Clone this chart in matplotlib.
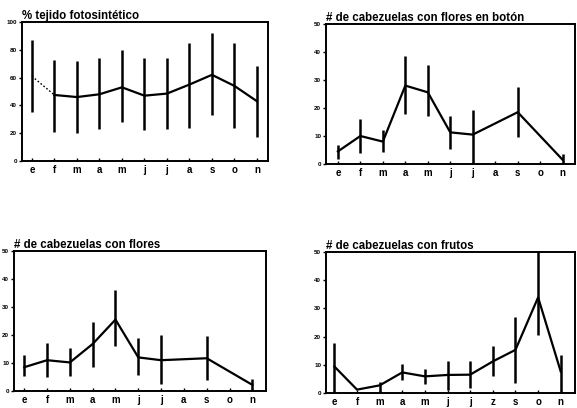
import numpy as np
import matplotlib
matplotlib.use("Agg")
import matplotlib.pyplot as plt

plt.rcParams['font.family'] = ['Liberation Sans', 'DejaVu Sans']

months = ['e', 'f', 'm', 'a', 'm', 'j', 'j', 'a', 's', 'o', 'n']
months4 = ['e', 'f', 'm', 'a', 'm', 'j', 'j', 'z', 's', 'o', 'n']
nan = np.nan

# Panel 1: % tejido fotosintético
foto_mean = [61, 47.5, 46, 48, 53, 47, 48.5, 55, 62, 54, 43]
foto_low = [35, 21, 20, 23, 28, 22, 23, 24, 33, 24, 17]
foto_high = [87, 73, 72, 74, 80, 74, 74, 85, 92, 85, 68]

# Panel 2: # de cabezuelas con flores en botón
boton_mean = [4.5, 10, 8, 28, 25.6, 11.3, 10.5, nan, 18.5, nan, 1.5]
boton_low = [1.8, 4, 4.3, 18, 17, 5.5, 0, nan, 9.6, nan, 0]
boton_high = [6.7, 16, 12, 38.5, 35.5, 17.3, 19.4, nan, 27.5, nan, 3.7]

# Panel 3: # de cabezuelas con flores
flores_mean = [8.5, 11, 10.2, 16.8, 25.5, 12, 11, nan, 11.7, nan, 2.2]
flores_low = [5.2, 5, 5.4, 8.6, 16, 5.6, 2.4, nan, 4, nan, 0]
flores_high = [12.7, 17, 15.5, 24.6, 36, 19, 19.9, nan, 19.5, nan, 4.2]

# Panel 4: # de cabezuelas con frutos
frutos_mean = [9.4, 1.2, 2.7, 7.3, 5.9, 6.4, 6.5, 11.2, 15.3, 33.9, 7.6]
frutos_low = [0, 1.2, 0, 4.7, 3.3, 1.2, 1.8, 5.9, 3.5, 20.6, 0]
frutos_high = [17.6, 1.2, 3.8, 10.2, 8.6, 11.2, 11.2, 16.5, 26.8, 52, 13.5]

W, H = 577, 408
fig = plt.figure(figsize=(W / 100, H / 100), dpi=100)

def rect(l, r, t, b):
    return [l / W, 1 - b / H, (r - l) / W, (b - t) / H]

panels = [
    dict(rect=rect(22, 268, 22, 161), title='% tejido fotosintético',
         mean=foto_mean, low=foto_low, high=foto_high, ymax=100, step=20,
         xlim=(-0.44, 10.49), labels=months, dotted_first=True),
    dict(rect=rect(326, 575, 24, 164), title='# de cabezuelas con flores en botón',
         mean=boton_mean, low=boton_low, high=boton_high, ymax=50, step=10,
         xlim=(-0.53, 10.55), labels=months, dotted_first=False),
    dict(rect=rect(14, 266, 251, 391), title='# de cabezuelas con flores',
         mean=flores_mean, low=flores_low, high=flores_high, ymax=50, step=10,
         xlim=(-0.45, 10.6), labels=months, dotted_first=False),
    dict(rect=rect(326, 575, 252, 393), title='# de cabezuelas con frutos',
         mean=frutos_mean, low=frutos_low, high=frutos_high, ymax=50, step=10,
         xlim=(-0.37, 10.63), labels=months4, dotted_first=False),
]

for p in panels:
    ax = fig.add_axes(p['rect'])
    x = np.arange(len(p['labels']))
    mean = np.array(p['mean'], dtype=float)
    low = np.array(p['low'], dtype=float)
    high = np.array(p['high'], dtype=float)
    ok = ~np.isnan(mean)
    xs, ys = x[ok], mean[ok]
    if p['dotted_first']:
        ax.plot(xs[:2], ys[:2], color='black', lw=1.0, ls=(0, (1.2, 1.5)))
        ax.plot(xs[1:], ys[1:], color='black', lw=1.6)
    else:
        ax.plot(xs, ys, color='black', lw=1.6)
    okb = ~np.isnan(low)
    ax.vlines(x[okb], low[okb], high[okb], color='black', lw=1.8)
    ax.set_xlim(*p['xlim'])
    ax.set_ylim(0, p['ymax'])
    ax.set_xticks(x)
    ax.set_xticklabels(p['labels'], fontsize=7, fontweight='bold')
    ax.set_yticks(np.arange(0, p['ymax'] + 1, p['step']))
    ax.set_yticklabels([str(v) for v in np.arange(0, p['ymax'] + 1, p['step'])],
                       fontsize=4.5, fontweight='bold')
    ax.tick_params(axis='x', direction='in', length=2.5, width=1, pad=3)
    ax.tick_params(axis='y', direction='out', length=2, width=1, pad=1.5)
    for s in ax.spines.values():
        s.set_linewidth(1.4)
    ax.set_title(p['title'], loc='left', fontsize=8.3, fontweight='bold', pad=1.5)

fig.savefig('out.png', dpi=100)
